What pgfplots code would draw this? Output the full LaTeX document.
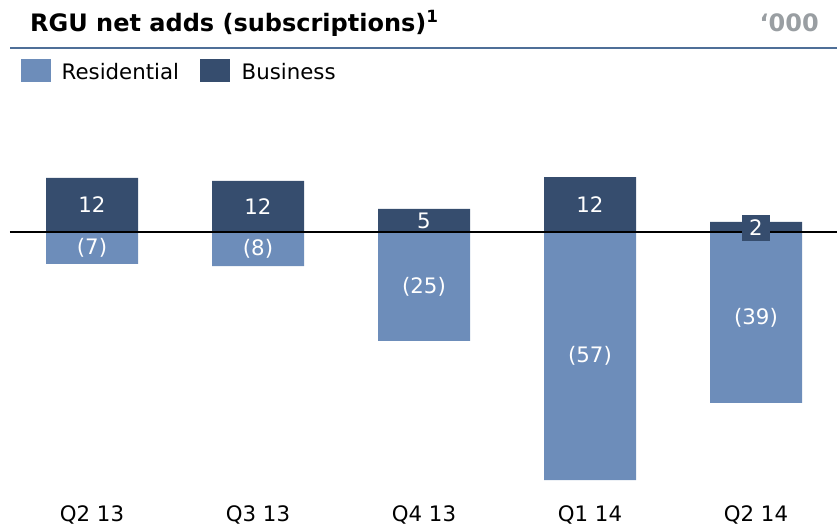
\documentclass[border=0pt]{standalone}
\usepackage{fontspec}
\setmainfont{DejaVu Sans}
\usepackage{pgfplots}
\pgfplotsset{compat=1.18}
\definecolor{resid}{RGB}{109,141,186}
\definecolor{busi}{RGB}{54,77,110}
\definecolor{rule}{RGB}{79,111,152}
\definecolor{unitgray}{RGB}{153,158,162}
\newcommand{\lblfont}{\fontsize{21.3}{21.3}\selectfont}
\begin{document}
\begin{tikzpicture}
\path[use as bounding box] (0pt,0pt) rectangle (837pt,526pt);
% title block
\node[anchor=base west, inner sep=0pt] at (30pt,494pt)
  {\fontsize{24}{24}\selectfont\bfseries RGU net adds (subscriptions)\textsuperscript{1}};
\node[anchor=base east, inner sep=0pt] at (819pt,494pt)
  {\fontsize{24}{24}\selectfont\bfseries\color{unitgray}`000};
\draw[rule, line width=2pt] (10pt,478pt) -- (837pt,478pt);
% legend
\fill[resid] (21pt,444pt) rectangle (51pt,467pt);
\node[anchor=base west, inner sep=0pt] at (61.5pt,446pt) {\lblfont Residential};
\fill[busi] (200pt,444pt) rectangle (230pt,467pt);
\node[anchor=base west, inner sep=0pt] at (241.5pt,446pt) {\lblfont Business};
\begin{axis}[
  at={(10pt,32.4pt)}, anchor=south west,
  scale only axis, width=827pt, height=392.4pt,
  xmin=-0.494, xmax=4.488, ymin=-60, ymax=30,
  axis line style={draw=none}, major tick length=0pt,
  ytick=\empty, xtick={0,1,2,3,4}, xtick pos=bottom,
  xticklabels={Q2 13,Q3 13,Q4 13,Q1 14,Q2 14},
  xticklabel style={anchor=base, yshift=-28.1pt, font=\lblfont},
  bar width=92pt, clip=false,
]
\addplot[ybar, bar shift=0pt, fill=resid, draw=none] coordinates {(0,-7.3) (1,-7.8) (2,-25.0) (3,-56.9) (4,-39.2)};
\addplot[ybar, bar shift=0pt, fill=busi, draw=none] coordinates {(0,12.4) (1,11.7) (2,5.3) (3,12.6) (4,2.3)};
\addplot[black, line width=2pt, mark=none] coordinates {(-0.494,0) (4.488,0)};
\addplot[draw=none, mark=none, nodes near coords, point meta=explicit symbolic,
  every node near coord/.style={anchor=center, text=white, fill=busi, inner sep=1.5pt, font=\lblfont}]
  coordinates {(0,6.2) [12] (1,5.85) [12] (2,2.65) [5] (3,6.3) [12]};
\addplot[draw=none, mark=none, nodes near coords, point meta=explicit symbolic,
  every node near coord/.style={anchor=center, text=white, fill=busi, inner xsep=7pt, inner ysep=5.5pt, font=\lblfont}]
  coordinates {(4,0.92) [2]};
\addplot[draw=none, mark=none, nodes near coords, point meta=explicit symbolic,
  every node near coord/.style={anchor=center, text=white, inner sep=0pt, font=\lblfont}]
  coordinates {(0,-3.65) [(7)] (1,-3.9) [(8)] (2,-12.5) [(25)] (3,-28.45) [(57)] (4,-19.6) [(39)]};
\end{axis}
\end{tikzpicture}
\end{document}
